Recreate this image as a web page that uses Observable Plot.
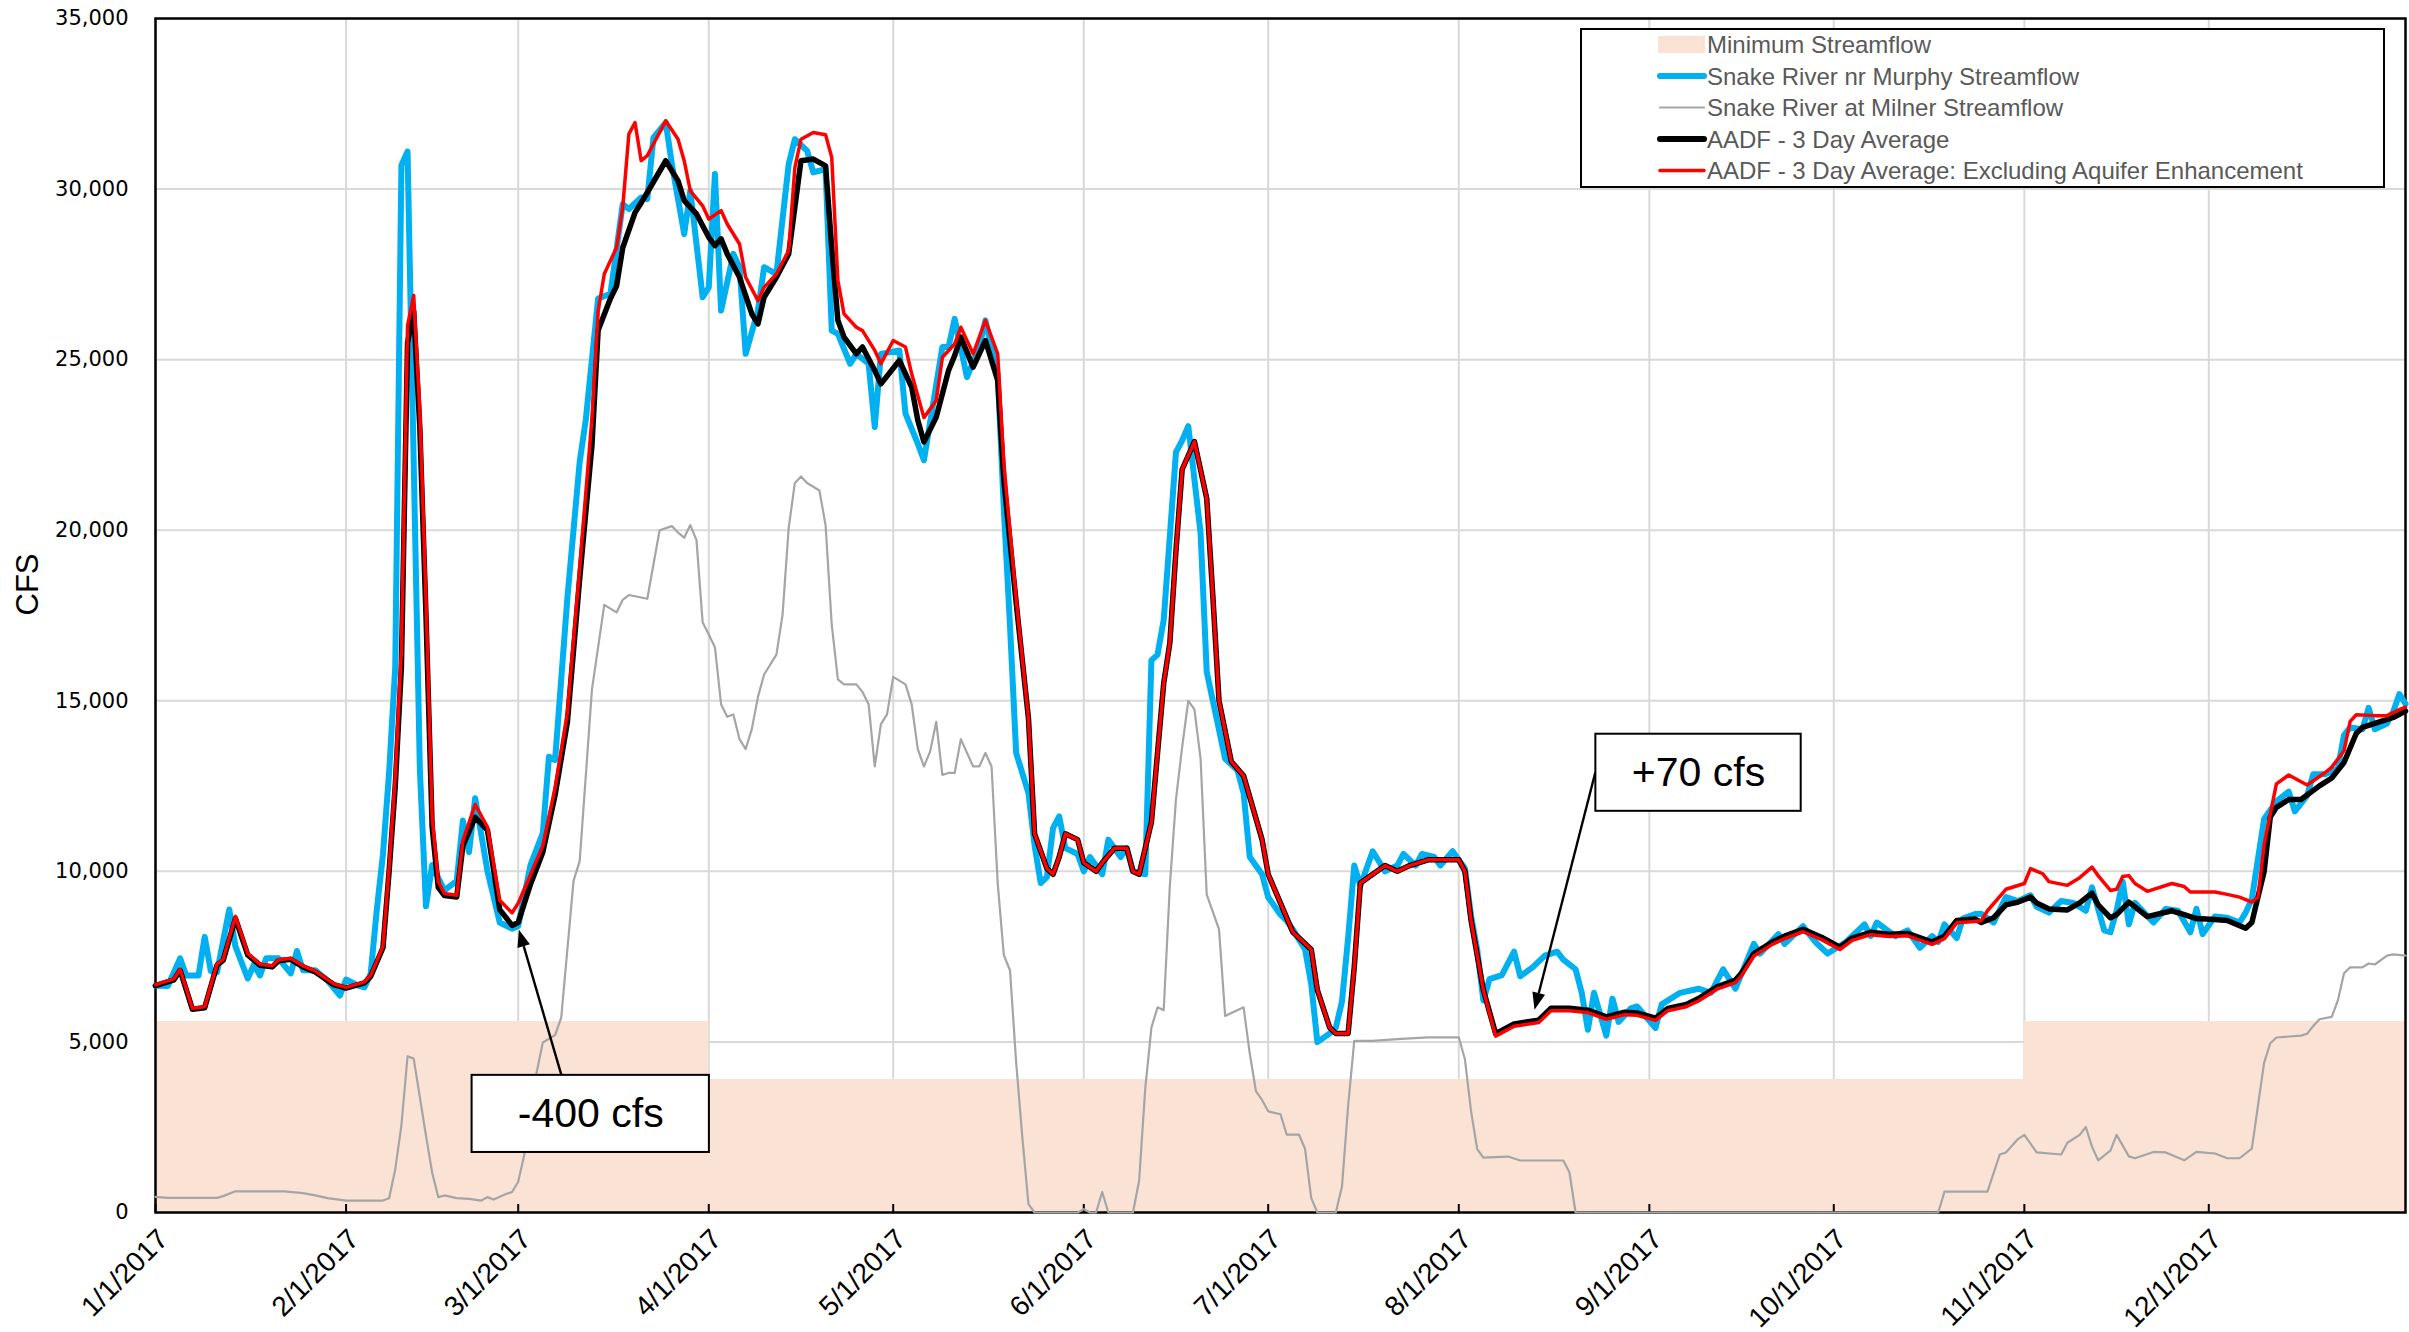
<!DOCTYPE html>
<html><head><meta charset="utf-8">
<script src="https://cdn.jsdelivr.net/npm/d3@7"></script>
<script src="https://cdn.jsdelivr.net/npm/@observablehq/plot@0.6"></script>
<style>html,body{margin:0;padding:0;background:#fff;} #chart svg{display:block;}</style>
</head><body><div id="chart"></div>
<script>
// ---------- DATA: [day of year offset from 1/1/2017, cfs] ----------
const murphy = [[0,6650],[2,6640],[4,7450],[5,6950],[7,6950],[8,8080],[9,7075],[10,7040],[12,8880],[13,7800],[15,6860],[16,7265],[17,6950],[18,7450],[20,7450],[22,7010],[23,7665],[24,7100],[26,7100],[28,6800],[30,6360],[31,6830],[33,6650],[34,6600],[35,7000],[36,8880],[37,10500],[38,12900],[39,16000],[40,30700],[41,31100],[42,22000],[43,13000],[44,8975],[45,10185],[47,9440],[49,9720],[50,11490],[51,10560],[52,12145],[54,10000],[56,8500],[58,8320],[59,8400],[61,10185],[63,11120],[64,13360],[65,13265],[67,18020],[69,22000],[70,23250],[72,26790],[74,26930],[76,29560],[77,29415],[79,29755],[80,29710],[81,31510],[83,31950],[84,30730],[86,28680],[87,29950],[89,26830],[90,27120],[91,30440],[92,26440],[94,28100],[95,27710],[96,25170],[98,26440],[99,27710],[101,27510],[103,30730],[104,31460],[106,31120],[107,30490],[109,30585],[110,25850],[111,25755],[113,24880],[114,25170],[116,24880],[117,23025],[118,25170],[121,25270],[122,23415],[124,22535],[125,22050],[128,25370],[129,25370],[130,26195],[132,24490],[134,25370],[135,26150],[137,24585],[138,20600],[139,17200],[140,13470],[142,12290],[143,10760],[144,9660],[145,9830],[146,11270],[147,11610],[148,10680],[150,10510],[151,10000],[152,10420],[154,9915],[155,10930],[157,10420],[158,10680],[159,10000],[161,9915],[162,16185],[163,16355],[164,17370],[166,22290],[167,22630],[168,23050],[170,19915],[171,15850],[172,15000],[174,13300],[176,12965],[177,12290],[178,10420],[180,9915],[181,9240],[183,8730],[184,8560],[185,8300],[187,7710],[188,6690],[189,4995],[191,5250],[192,5420],[193,6185],[194,8050],[195,10170],[196,9575],[198,10590],[200,10000],[202,10170],[203,10510],[205,10170],[206,10510],[208,10420],[209,10170],[211,10590],[213,10085],[214,8700],[215,7700],[216,6215],[217,6840],[219,6960],[221,7645],[222,6925],[224,7185],[226,7530],[228,7645],[229,7415],[231,7130],[232,6440],[233,5355],[234,6440],[236,5185],[237,6270],[238,5585],[240,5985],[241,6040],[244,5410],[245,6100],[248,6440],[251,6560],[253,6440],[255,7130],[257,6560],[260,7875],[261,7590],[264,8160],[265,7875],[268,8390],[270,7930],[272,7590],[275,7930],[278,8445],[279,8100],[280,8500],[283,8100],[285,8270],[287,7760],[289,8100],[290,7930],[291,8445],[293,8045],[294,8615],[296,8750],[297,8755],[299,8500],[301,9245],[303,9130],[305,9300],[306,8960],[308,8790],[310,9130],[312,9075],[314,8845],[315,9530],[317,8270],[318,8215],[319,8845],[320,9700],[321,8445],[322,9075],[325,8500],[327,8900],[329,8845],[331,8215],[332,8900],[333,8160],[335,8675],[337,8640],[339,8500],[340,8790],[341,9190],[343,11535],[345,12050],[347,12335],[348,11760],[350,12220],[351,12850],[353,12850],[355,13020],[356,13995],[357,14220],[359,14165],[360,14795],[361,14165],[363,14335],[364,14680],[365,15195],[366,14910]];

const milner = [[0,460],[2,430],[10,430],[11,480],[13,620],[17,620],[21,620],[24,570],[26,500],[28,420],[31,350],[37,350],[38,420],[39,1270],[40,2550],[41,4580],[42,4510],[44,2255],[45,1170],[46,450],[47,500],[49,420],[51,400],[53,350],[54,450],[55,380],[57,540],[58,600],[59,900],[60,1700],[61,3230],[63,4985],[65,5200],[66,5710],[68,9720],[69,10300],[71,15335],[73,17810],[75,17590],[76,17960],[77,18100],[80,17990],[82,20000],[84,20120],[85,19930],[86,19780],[87,20150],[88,19710],[89,17300],[90,16940],[91,16570],[92,14900],[93,14530],[94,14600],[95,13875],[96,13585],[97,14170],[98,15115],[99,15770],[101,16355],[102,17520],[103,20070],[104,21385],[105,21575],[106,21385],[108,21165],[109,20145],[110,17230],[111,15625],[112,15480],[114,15480],[115,15260],[116,14900],[117,13075],[118,14315],[119,14600],[120,15700],[122,15480],[123,14900],[124,13585],[125,13075],[126,13510],[127,14385],[128,12825],[129,12885],[130,12885],[131,13875],[133,13075],[134,13075],[135,13470],[136,13075],[137,9650],[138,7535],[139,7100],[140,4400],[141,2210],[142,245],[143,0],[150,0],[151,100],[152,0],[153,0],[154,600],[155,0],[159,0],[160,930],[161,3640],[162,5420],[163,6015],[164,5930],[165,9575],[166,12120],[167,13645],[168,15000],[169,14745],[170,13300],[171,9320],[172,8810],[173,8300],[174,5760],[175,5850],[177,6015],[178,4660],[179,3560],[180,3300],[181,2965],[183,2880],[184,2285],[186,2285],[187,1860],[188,420],[189,0],[192,0],[193,760],[194,3130],[195,5030],[198,5030],[202,5080],[207,5135],[212,5135],[213,4490],[214,2965],[215,1860],[216,1610],[220,1640],[222,1525],[225,1525],[229,1525],[230,1180],[231,0],[290,0],[291,610],[298,610],[300,1700],[301,1760],[303,2160],[304,2275],[306,1760],[310,1700],[311,2045],[313,2275],[314,2505],[315,1930],[316,1530],[318,1815],[319,2275],[321,1645],[322,1590],[325,1775],[327,1760],[330,1530],[332,1775],[335,1730],[337,1590],[339,1590],[341,1875],[342,3130],[343,4385],[344,4960],[345,5130],[349,5185],[350,5240],[351,5470],[352,5665],[354,5735],[355,6215],[356,7015],[357,7185],[359,7185],[360,7300],[361,7270],[363,7530],[364,7565],[366,7530]];

const aadf = [[0,6650],[3,6820],[4,7100],[6,5960],[8,6000],[10,7250],[11,7390],[13,8620],[15,7550],[17,7250],[19,7200],[20,7380],[22,7420],[24,7200],[26,7050],[29,6680],[31,6580],[34,6730],[35,6920],[37,7760],[38,10000],[39,12500],[40,16000],[41,25500],[42,26420],[43,23000],[44,17500],[45,11300],[46,9530],[47,9290],[49,9250],[50,10745],[52,11585],[54,11210],[56,8880],[58,8415],[59,8500],[61,9625],[63,10560],[65,12240],[67,14380],[69,18580],[71,22500],[72,25860],[74,26790],[75,27160],[76,28280],[78,29310],[79,29600],[80,29900],[83,30830],[85,30240],[86,29660],[88,29270],[90,28585],[91,28340],[92,28540],[93,28100],[95,27415],[97,26340],[98,26050],[99,26830],[101,27415],[103,28100],[104,29460],[105,30830],[107,30880],[109,30680],[110,28290],[111,26150],[112,25660],[114,25170],[115,25370],[117,24680],[118,24290],[121,24975],[123,24195],[124,23220],[125,22585],[127,23315],[129,24680],[130,25120],[131,25660],[133,24780],[135,25560],[137,24390],[138,21463],[140,17880],[142,14490],[143,11100],[145,10085],[146,9915],[147,10420],[148,11100],[150,10930],[151,10250],[153,10000],[154,10250],[156,10680],[158,10680],[159,10000],[160,9915],[162,11440],[164,15510],[165,16700],[166,19410],[167,21780],[169,22600],[171,20930],[172,18050],[173,15000],[175,13220],[177,12800],[180,10930],[181,9915],[183,9070],[185,8220],[188,7710],[189,6520],[191,5420],[192,5250],[194,5250],[195,7200],[196,9660],[198,9915],[200,10170],[202,10000],[204,10170],[207,10340],[209,10340],[212,10340],[213,10000],[214,8560],[216,6520],[218,5240],[221,5530],[225,5640],[227,5985],[230,5985],[233,5930],[236,5735],[239,5870],[241,5850],[244,5700],[246,5985],[249,6100],[251,6270],[254,6615],[257,6810],[258,7015],[260,7590],[263,7930],[265,8100],[268,8300],[271,8070],[274,7780],[276,8045],[279,8215],[282,8160],[285,8180],[289,7930],[291,8100],[293,8560],[296,8600],[297,8500],[299,8640],[301,9020],[303,9100],[305,9245],[306,9075],[308,8900],[311,8870],[313,9075],[315,9360],[316,9020],[318,8640],[319,8730],[321,9100],[322,8960],[324,8675],[328,8845],[330,8730],[332,8615],[335,8590],[337,8560],[340,8330],[341,8500],[343,9990],[344,11590],[345,11875],[347,12105],[349,12105],[352,12505],[354,12735],[356,13190],[358,14050],[359,14220],[361,14335],[364,14510],[366,14700]];

const aadfExcl = [[0,6680],[3,6850],[4,7130],[6,5990],[8,6030],[10,7280],[11,7420],[13,8680],[15,7600],[17,7280],[19,7230],[20,7410],[22,7450],[24,7230],[26,7080],[29,6700],[31,6600],[34,6760],[35,6950],[37,7800],[38,10100],[39,12800],[40,16500],[41,26000],[42,26880],[43,23500],[44,18000],[45,11600],[46,9700],[47,9350],[49,9300],[50,10900],[52,11960],[54,11300],[56,9150],[58,8785],[59,9065],[61,9900],[63,10750],[65,12450],[67,14650],[69,18900],[71,23300],[72,26420],[73,27510],[75,28290],[76,29460],[77,31610],[78,31950],[79,30830],[80,30980],[81,31320],[83,32000],[85,31460],[86,30830],[87,29950],[89,29510],[90,29120],[92,29370],[93,28975],[95,28390],[96,27415],[98,26730],[99,27120],[101,27510],[103,28195],[104,30630],[105,31460],[107,31660],[109,31590],[110,30930],[111,27320],[112,26340],[114,25950],[115,25850],[117,25270],[118,24880],[120,25560],[122,25370],[123,24585],[125,23300],[127,23800],[128,25070],[130,25460],[131,25950],[133,25170],[135,26150],[137,25170],[138,21950],[140,18000],[142,14490],[143,11100],[145,10085],[146,9915],[147,10420],[148,11100],[150,10930],[151,10250],[153,10000],[154,10250],[156,10680],[158,10680],[159,10000],[160,9915],[162,11440],[164,15510],[165,16700],[166,19410],[167,21780],[169,22600],[171,20930],[172,18050],[173,15000],[175,13220],[177,12800],[180,10930],[181,9915],[183,9070],[185,8220],[188,7710],[189,6520],[191,5420],[192,5250],[194,5250],[195,7200],[196,9660],[198,9915],[200,10170],[202,10000],[204,10170],[207,10340],[209,10340],[212,10340],[213,10000],[214,8560],[216,6520],[218,5170],[221,5460],[225,5570],[227,5915],[230,5915],[233,5860],[236,5665],[239,5800],[241,5780],[244,5630],[246,5915],[249,6030],[251,6200],[254,6545],[257,6740],[258,6945],[260,7520],[263,7860],[265,8030],[268,8230],[271,8000],[274,7710],[276,7975],[279,8145],[282,8090],[285,8110],[289,7860],[291,8030],[293,8490],[296,8530],[297,8560],[298,8845],[301,9475],[304,9645],[305,10080],[307,9930],[308,9700],[311,9590],[313,9815],[315,10125],[316,9875],[318,9440],[319,9475],[320,9850],[321,9875],[322,9645],[324,9415],[328,9645],[330,9555],[331,9395],[335,9395],[337,9325],[339,9245],[341,9100],[342,9245],[343,10790],[345,12565],[347,12825],[350,12530],[353,12905],[354,13055],[356,13535],[357,14395],[358,14590],[361,14565],[363,14565],[365,14740],[366,14815]];

// Minimum streamflow requirement (step changes)
const minFlow = [[0,5600],[90,3900],[304,5600],[366,5600]];

const xTickLabels = ["1/1/2017","2/1/2017","3/1/2017","4/1/2017","5/1/2017","6/1/2017","7/1/2017","8/1/2017","9/1/2017","10/1/2017","11/1/2017","12/1/2017"];
const yTicks = [0,5000,10000,15000,20000,25000,30000,35000];

const legendLabels = ["Minimum Streamflow","Snake River nr Murphy Streamflow","Snake River at Milner Streamflow","AADF - 3 Day Average","AADF - 3 Day Average: Excluding Aquifer Enhancement"];

const notes = [
  {label: "-400 cfs", box: [51.5, 90.1, 1760, 4020], from: [66.1, 4020], to: [59.2, 8270]},
  {label: "+70 cfs", box: [234.3, 267.7, 11760, 14020], from: [234.3, 12890], to: [224.4, 5930]}
];

// ---------- helpers ----------
const day0 = Date.UTC(2017, 0, 1);
const toDate = d => new Date(day0 + d * 86400000);
const toRows = pairs => pairs.map(([d, v]) => ({date: toDate(d), cfs: v}));
const parseLabel = d3.utcParse("%m/%d/%Y");
const monthStarts = xTickLabels.map(parseLabel);
const labelOf = new Map(monthStarts.map((d, i) => [+d, xTickLabels[i]]));

const C = {min: "#FAE3D5", murphy: "#00B0F0", milner: "#A5A5A5", aadf: "#000000", excl: "#FF0000"};
const FONT = "'Liberation Sans', Arial, sans-serif";

function legend() {
  const g = d3.create("svg:g");
  g.append("rect").attr("x", 1581).attr("y", 29).attr("width", 803).attr("height", 158)
    .attr("fill", "#fff").attr("stroke", "#000").attr("stroke-width", 2);
  const styles = [
    {type: "swatch", color: C.min},
    {type: "line", color: C.murphy, w: 6},
    {type: "line", color: C.milner, w: 2.2},
    {type: "line", color: C.aadf, w: 6},
    {type: "line", color: C.excl, w: 3.5}
  ];
  legendLabels.forEach((lab, i) => {
    const cy = 44.5 + i * 31.5, s = styles[i];
    if (s.type === "swatch") {
      g.append("rect").attr("x", 1658).attr("y", cy - 8.5).attr("width", 47).attr("height", 17).attr("fill", s.color);
    } else {
      g.append("line").attr("x1", 1660).attr("x2", 1704).attr("y1", cy).attr("y2", cy)
        .attr("stroke", s.color).attr("stroke-width", s.w).attr("stroke-linecap", "round");
    }
    g.append("text").attr("x", 1707).attr("y", cy).attr("dy", "0.36em")
      .attr("text-anchor", "start")
      .attr("font-family", FONT).attr("font-size", 24).attr("fill", "#595959").text(lab);
  });
  return g.node();
}

function arrows(index, scales) {
  const g = d3.create("svg:g");
  for (const n of notes) {
    const x1 = scales.x(toDate(n.from[0])), y1 = scales.y(n.from[1]);
    const x2 = scales.x(toDate(n.to[0])), y2 = scales.y(n.to[1]);
    const a = Math.atan2(y2 - y1, x2 - x1), L = 17, W = 6.5;
    const bx = x2 - L * Math.cos(a), by = y2 - L * Math.sin(a);
    g.append("line").attr("x1", x1).attr("y1", y1).attr("x2", bx).attr("y2", by)
      .attr("stroke", "#000").attr("stroke-width", 2.4);
    g.append("path").attr("d", `M${x2},${y2}L${bx - W * Math.sin(a)},${by + W * Math.cos(a)}L${bx + W * Math.sin(a)},${by - W * Math.cos(a)}Z`)
      .attr("fill", "#000");
  }
  return g.node();
}

const chart = Plot.plot({
  width: 2409,
  height: 1332,
  marginLeft: 155,
  marginRight: 4,
  marginTop: 18,
  marginBottom: 120,
  style: {background: "#fff", fontFamily: FONT, overflow: "visible"},
  x: {type: "utc", domain: [toDate(0), toDate(366)]},
  y: {domain: [0, 35000]},
  marks: [
    Plot.gridY(yTicks, {stroke: "#D9D9D9", strokeOpacity: 1, strokeWidth: 2}),
    Plot.gridX(monthStarts, {stroke: "#D9D9D9", strokeOpacity: 1, strokeWidth: 2}),
    Plot.areaY(toRows(minFlow), {x: "date", y: "cfs", curve: "step-after", fill: C.min}),
    Plot.frame({stroke: "#000", strokeWidth: 2.5}),
    Plot.axisX(monthStarts, {tickSize: 8, dy: -8, stroke: "#000", strokeWidth: 2, fill: "none", label: null}),
    Plot.line(toRows(murphy), {x: "date", y: "cfs", stroke: C.murphy, strokeWidth: 6, strokeLinejoin: "round"}),
    Plot.line(toRows(milner), {x: "date", y: "cfs", stroke: C.milner, strokeWidth: 2.2, strokeLinejoin: "round"}),
    Plot.line(toRows(aadf), {x: "date", y: "cfs", stroke: C.aadf, strokeWidth: 5.5, strokeLinejoin: "round"}),
    Plot.line(toRows(aadfExcl), {x: "date", y: "cfs", stroke: C.excl, strokeWidth: 3.5, strokeLinejoin: "round"}),
    Plot.axisY(yTicks, {tickSize: 0, tickPadding: 27, tickFormat: d3.format(","), fontSize: 21, fontFamily: "'DejaVu Sans', sans-serif", fill: "#000", label: null}),
    Plot.axisX(monthStarts, {tickSize: 0, tickPadding: 22, tickRotate: -45, dx: 8, tickFormat: d => labelOf.get(+d), fontSize: 28, fontFamily: FONT, fill: "#000", label: null}),
    Plot.text(["CFS"], {frameAnchor: "left", dx: -127, rotate: -90, fontSize: 31, fontFamily: FONT, fill: "#000"}),
    arrows,
    Plot.rect(notes, {x1: d => toDate(d.box[0]), x2: d => toDate(d.box[1]), y1: d => d.box[2], y2: d => d.box[3], fill: "#fff", stroke: "#000", strokeWidth: 2}),
    Plot.text(notes, {x: d => toDate((d.box[0] + d.box[1]) / 2), y: d => (d.box[2] + d.box[3]) / 2, text: "label", fontSize: 41, fontFamily: FONT, fill: "#000"}),
    legend
  ]
});
document.getElementById("chart").appendChild(chart);
</script>
</body></html>
